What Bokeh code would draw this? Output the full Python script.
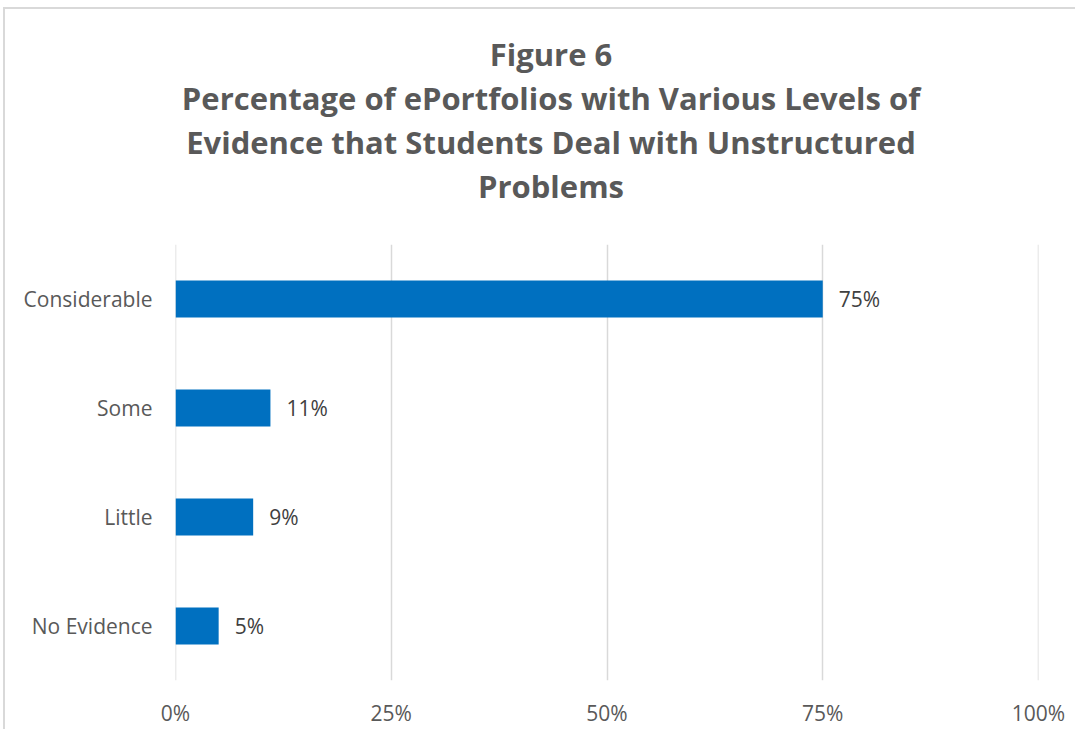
from bokeh.plotting import figure
from bokeh.layouts import column
from bokeh.models import ColumnDataSource, Div, FixedTicker, CustomJSTickFormatter
from bokeh.core.properties import value
from bokeh.embed import file_html
from bokeh.resources import INLINE

categories = ["No Evidence", "Little", "Some", "Considerable"]
percentages = [5, 9, 11, 75]
labels = ["5%", "9%", "11%", "75%"]
x_ticks = [0, 25, 50, 75, 100]

title_lines = [
    "Figure 6",
    "Percentage of ePortfolios with Various Levels of",
    "Evidence that Students Deal with Unstructured",
    "Problems",
]

FONT = "Open Sans"
GREY = "#595959"

# ---- title block (four centred lines) ----
title_html = (
    '<div style="width:1070px;box-sizing:border-box;padding-left:22px;padding-top:23px;'
    'text-align:center;font-family:\'Open Sans\';font-weight:bold;font-size:31px;'
    'line-height:44px;color:%s;white-space:nowrap;">%s</div>'
    % (GREY, "<br>".join(title_lines))
)
tdiv = Div(text=title_html, width=1070, height=200, margin=0)

# ---- main chart ----
src = ColumnDataSource(dict(cat=categories, val=percentages, lab=labels))

p = figure(
    width=1070, height=520,
    y_range=categories, x_range=(-0.001, 100.001),
    output_backend="svg", toolbar_location=None,
    min_border_left=170, min_border_right=37, min_border_bottom=49, min_border_top=35,
)
p.hbar(y="cat", right="val", left=0, height=0.34, source=src, color="#0070C0", line_color=None)
p.text(x="val", y="cat", text="lab", source=src, x_offset=16, text_baseline="middle",
       text_align="left", text_font=value(FONT), text_font_size="21px", text_color="#404040")

p.outline_line_color = None
p.ygrid.grid_line_color = None
p.xgrid.grid_line_color = "#d9d9d9"
p.xgrid.grid_line_width = 1.5
p.xaxis.ticker = FixedTicker(ticks=x_ticks)
p.xaxis.formatter = CustomJSTickFormatter(code="return Math.round(tick) + '%';")
for ax in (p.xaxis, p.yaxis):
    ax.axis_line_color = None
    ax.major_tick_line_color = None
    ax.minor_tick_line_color = None
    ax.major_label_text_font = FONT
    ax.major_label_text_font_size = "21px"
    ax.major_label_text_color = GREY
p.xaxis.major_label_standoff = 12
p.yaxis.major_label_standoff = 17

layout = column(tdiv, p, spacing=0)
layout.styles = {"margin-left": "3px", "margin-top": "7px",
                 "border-left": "2px solid #d9d9d9", "border-top": "2px solid #d9d9d9"}

open("out.html", "w").write(file_html(layout, INLINE))
